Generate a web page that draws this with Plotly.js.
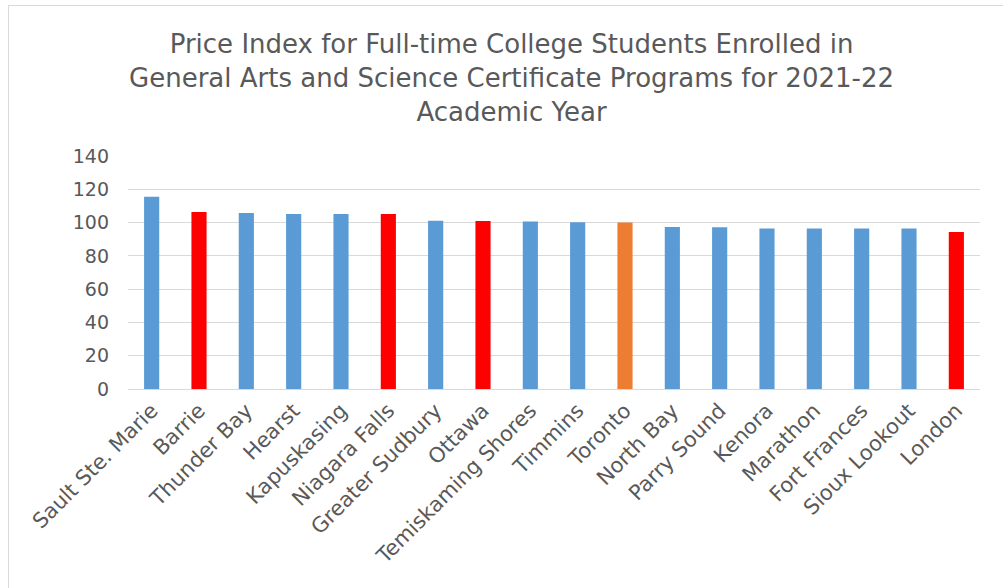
<!DOCTYPE html>
<html>
<head>
<meta charset="utf-8">
<script src="https://cdn.plot.ly/plotly-3.0.1.min.js"></script>
<style>
html,body{margin:0;padding:0;background:#fff;}
#chart{width:1003px;height:588px;position:absolute;left:0;top:0;}
#frame{position:absolute;left:8px;top:5px;width:1010px;height:600px;border:1px solid #d9d9d9;pointer-events:none;}
</style>
</head>
<body>
<div id="chart"></div>
<div id="frame"></div>
<script>
const cities = ["Sault Ste. Marie","Barrie","Thunder Bay","Hearst","Kapuskasing","Niagara Falls","Greater Sudbury","Ottawa","Temiskaming Shores","Timmins","Toronto","North Bay","Parry Sound","Kenora","Marathon","Fort Frances","Sioux Lookout","London"];
const priceIndex = [115.5,106.4,105.8,105.2,105.2,105.2,101.1,101.0,100.7,100.2,100.0,97.4,97.2,96.5,96.5,96.5,96.5,94.3];
const barColors = ["#5b9bd5","#ff0000","#5b9bd5","#5b9bd5","#5b9bd5","#ff0000","#5b9bd5","#ff0000","#5b9bd5","#5b9bd5","#ed7d31","#5b9bd5","#5b9bd5","#5b9bd5","#5b9bd5","#5b9bd5","#5b9bd5","#ff0000"];
const titleText = "Price Index for Full-time College Students Enrolled in<br>General Arts and Science Certificate Programs for 2021-22<br>Academic Year";

const fontFam = "'DejaVu Sans', sans-serif";
Plotly.newPlot("chart", [{
  type: "bar",
  x: cities,
  y: priceIndex,
  marker: {color: barColors},
  hoverinfo: "x+y"
}], {
  width: 1003, height: 588,
  paper_bgcolor: "#ffffff", plot_bgcolor: "#ffffff",
  margin: {l: 128, r: 23, t: 156, b: 199},
  bargap: 0.68,
  showlegend: false,
  font: {family: fontFam, color: "#595959"},
  title: {text: titleText, x: 0.51, xanchor: "center", y: 0.91, yanchor: "middle", yref: "container",
          font: {family: fontFam, size: 26, color: "#595959"}},
  xaxis: {tickangle: -45, tickfont: {size: 21, color: "#595959"}, showline: true, linecolor: "#d9d9d9", linewidth: 1,
          ticks: "", showgrid: false},
  yaxis: {range: [0, 140], dtick: 20, tickfont: {size: 19, color: "#595959"}, gridcolor: "#d9d9d9", gridwidth: 1,
          zeroline: false, showline: false, ticklabelstandoff: 18}
}, {displayModeBar: false});
</script>
</body>
</html>
